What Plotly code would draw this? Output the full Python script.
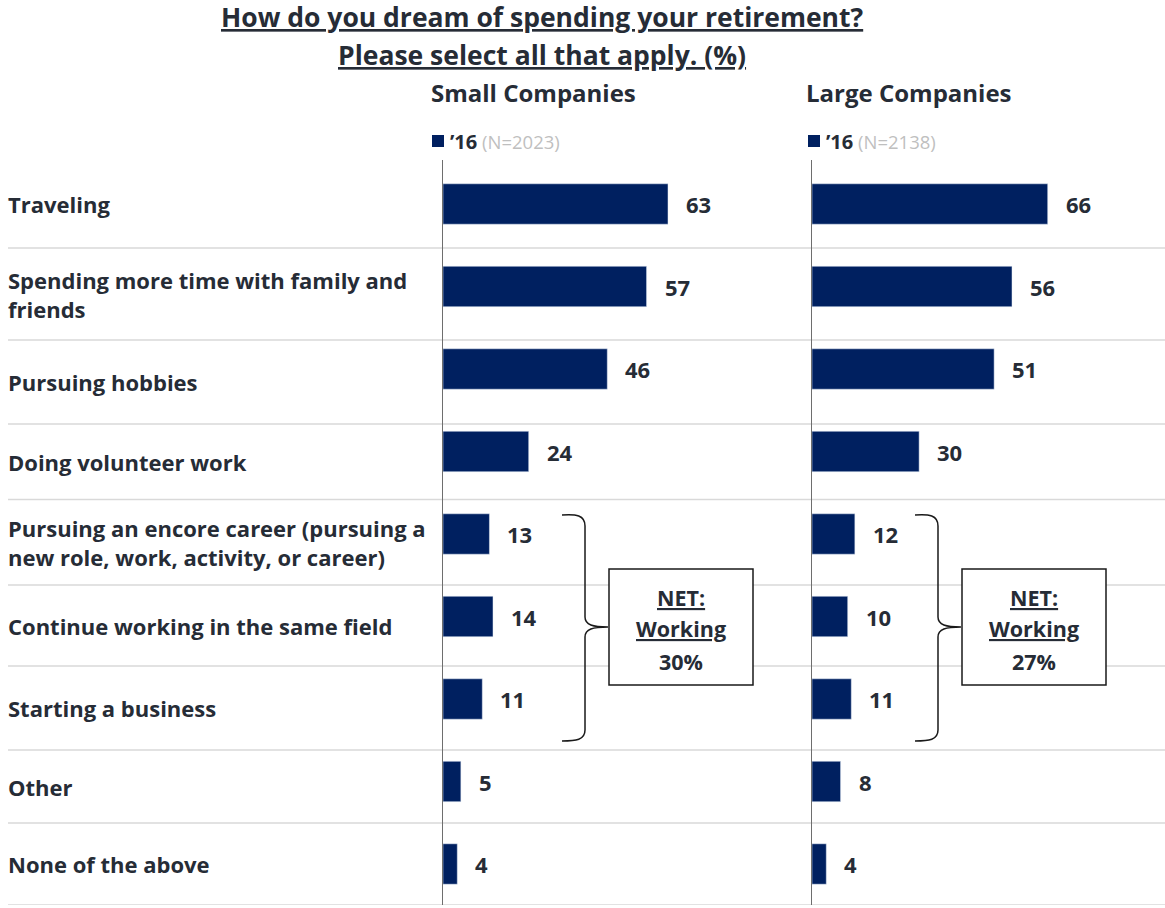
import plotly.graph_objects as go

# ---------------- data ----------------
categories = [
    "Traveling",
    "Spending more time with family and<br>friends",
    "Pursuing hobbies",
    "Doing volunteer work",
    "Pursuing an encore career (pursuing a<br>new role, work, activity, or career)",
    "Continue working in the same field",
    "Starting a business",
    "Other",
    "None of the above",
]
small_values = [63, 57, 46, 24, 13, 14, 11, 5, 4]
large_values = [66, 56, 51, 30, 12, 10, 11, 8, 4]
panel_titles = ["Small Companies", "Large Companies"]
legend_year = "’16"
sample_sizes = [2023, 2138]
net_working = [30, 27]
title_lines = ["How do you dream of spending your retirement?", "Please select all that apply. (%)"]

# ---------------- layout helpers ----------------
W, H = 1165, 908
NAVY = "#002060"
TXT = "#262C36"
FONT = "Open Sans"

def px(x):
    return x / W

def py(y):
    return 1 - y / H

ROW0, STEP = 204.0, 82.5          # pixel centre of first bar, pixel step per category
def yd(p):                         # pixel y -> category-axis units
    return (p - ROW0) / STEP

SCALE = 225 / 63                   # pixels per percentage point
X0_L, X0_R = 443, 812              # pixel position of the zero lines
Y_TOP, Y_BOT = 160, 905
row_bounds_px = [Y_TOP, 248, 340, 424, 499.5, 585, 666, 750, 823, 905]

fig = go.Figure()
fig.add_trace(go.Bar(y=categories, x=small_values, orientation="h", marker_color=NAVY,
                     width=0.49, xaxis="x", yaxis="y", hoverinfo="x+y", showlegend=False))
fig.add_trace(go.Bar(y=categories, x=large_values, orientation="h", marker_color=NAVY,
                     width=0.49, xaxis="x2", yaxis="y2", hoverinfo="x+y", showlegend=False))

yrange = [yd(Y_BOT), yd(Y_TOP)]
ydom = [py(Y_BOT), py(Y_TOP)]
common_y = dict(type="category", categoryorder="array", categoryarray=categories,
                range=yrange, domain=ydom, showticklabels=False, ticks="",
                showgrid=False, zeroline=False, showline=True, linecolor="#6E6E6E", linewidth=1)
fig.update_layout(
    width=W, height=H,
    margin=dict(l=0, r=0, t=0, b=0),
    paper_bgcolor="white", plot_bgcolor="rgba(0,0,0,0)",
    bargap=0.5,
    xaxis=dict(domain=[px(X0_L), px(800)], range=[0, (800 - X0_L) / SCALE], visible=False, anchor="y"),
    xaxis2=dict(domain=[px(X0_R), 1], range=[0, (W - X0_R) / SCALE], visible=False, anchor="y2"),
    yaxis=dict(anchor="x", **common_y),
    yaxis2=dict(anchor="x2", **common_y),
    font=dict(family=FONT, color=TXT),
)

shapes = []
# row separators
for b in row_bounds_px[1:]:
    shapes.append(dict(type="line", xref="paper", yref="y", x0=px(8), x1=1, y0=yd(b), y1=yd(b),
                       line=dict(color="#D9D9D9", width=1.5), layer="below"))

annotations = []
# titles
for t, yy in zip(title_lines, [17, 55]):
    annotations.append(dict(text=f"<b><u>{t}</u></b>", xref="paper", yref="paper", x=px(542), y=py(yy),
                            xanchor="center", yanchor="middle", showarrow=False,
                            font=dict(size=26.5, color=TXT, family=FONT)))
# panel headings + legends
for i, (pt, n) in enumerate(zip(panel_titles, sample_sizes)):
    cx = [533, 909][i]
    annotations.append(dict(text=f"<b>{pt}</b>", xref="paper", yref="paper", x=px(cx), y=py(92),
                            xanchor="center", yanchor="middle", showarrow=False,
                            font=dict(size=24, color=TXT, family=FONT)))
    lx = [432, 808][i]
    shapes.append(dict(type="rect", xref="paper", yref="paper", x0=px(lx), x1=px(lx + 12),
                       y0=py(147), y1=py(135), fillcolor=NAVY, line=dict(width=0)))
    annotations.append(dict(text=f"<b><span style='font-size:20px'>{legend_year}</span></b> "
                                 f"<span style='color:#BFBFBF'>(N={n})</span>",
                            xref="paper", yref="paper", x=px(lx + 16), y=py(141),
                            xanchor="left", yanchor="middle", showarrow=False,
                            font=dict(size=18.5, color=TXT, family=FONT)))

# category labels (left-aligned, centred in their rows)
for i, c in enumerate(categories):
    mid = (row_bounds_px[i] + row_bounds_px[i + 1]) / 2
    annotations.append(dict(text=f"<b>{c}</b>", xref="paper", yref="y", x=px(6), y=yd(mid),
                            xanchor="left", yanchor="middle", align="left", showarrow=False,
                            font=dict(size=22, color=TXT, family=FONT)))

# value labels
for xr, yr, vals in [("x", "y", small_values), ("x2", "y2", large_values)]:
    for c, v in zip(categories, vals):
        annotations.append(dict(text=f"<b>{v}</b>", xref=xr, yref=yr, x=v, y=c,
                                xanchor="left", yanchor="middle", xshift=16, showarrow=False,
                                font=dict(size=22, color=TXT, family=FONT)))

# braces + NET boxes
def path(points_cmds):
    out = []
    for cmd, pts in points_cmds:
        out.append(cmd + " " + " ".join(f"{px(x):.5f},{py(y):.5f}" for x, y in pts))
    return " ".join(out)

for i, net in enumerate(net_working):
    dx = [0, 353][i]
    bx = 562 + dx
    vx = bx + 23
    tip = bx + 46
    p = path([
        ("M", [(bx, 515)]),
        ("C", [(bx + 14, 514), (vx, 515), (vx, 526)]),
        ("L", [(vx, 617)]),
        ("C", [(vx, 625), (vx + 8, 627), (tip, 627)]),
        ("C", [(vx + 8, 627), (vx, 629), (vx, 637)]),
        ("L", [(vx, 730)]),
        ("C", [(vx, 740), (bx + 14, 741), (bx, 741)]),
    ])
    shapes.append(dict(type="path", xref="paper", yref="paper", path=p,
                       line=dict(color="#1A1A1A", width=1.5)))
    x0 = 609 + dx
    shapes.append(dict(type="rect", xref="paper", yref="paper", x0=px(x0), x1=px(x0 + 144),
                       y0=py(685), y1=py(569), fillcolor="white", line=dict(color="#1A1A1A", width=1.5)))
    cx = x0 + 72
    for txt, yy in [("<b><u>NET:</u></b>", 597), ("<b><u>Working</u></b>", 628), (f"<b>{net}%</b>", 661)]:
        annotations.append(dict(text=txt, xref="paper", yref="paper", x=px(cx), y=py(yy),
                                xanchor="center", yanchor="middle", showarrow=False,
                                font=dict(size=21.5, color=TXT, family=FONT)))

fig.update_layout(shapes=shapes, annotations=annotations)

fig.write_html("out.html", config={"displayModeBar": False},
               post_script="document.body.style.margin='0';document.body.style.overflow='hidden';")
